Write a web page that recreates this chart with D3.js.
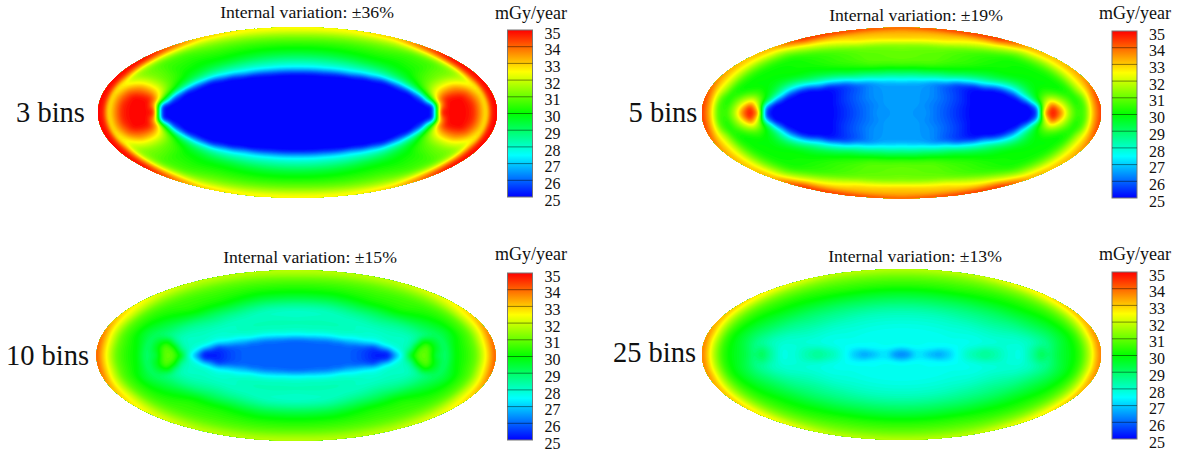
<!DOCTYPE html>
<html><head><meta charset="utf-8">
<script src="https://cdn.jsdelivr.net/npm/d3@7"></script>
<style>html,body{margin:0;background:#fff}svg{display:block}text{font-family:"Liberation Serif",serif;fill:#111}</style>
</head><body><svg id="c" width="1178" height="452"></svg>
<script>
// Dose, in mGy/year. Each table is one quadrant of the map:
// rows are angles (deg, 0 = long axis), columns are fractions of the way to the rim.
const colorDomain=[25,27.5,30,32.5,35];
const colorRange=["#0000ff","#00ffff","#00ff00","#ffff00","#ff0000"];
const barTicks=[35,34,33,32,31,30,29,28,27,26,25];

const rim3=[0,.25,.4,.44,.48,.52,.56,.6,.64,.68,.72,.76,.8,.84,.88,.92,.95,.97,.985,1];
const ang3=[0,4,8,12,16,20,25,30,40,50,60,75,90];
const dose3=[
[25,25,25,25,25,25,25,25,25,25.5,35,35,35,35,34.7,33.5,32.5,34.7,35,35],
[25,25,25,25,25,25,25,25,25,25,34,35,35,35,34.7,33.5,32.5,34.7,35,35],
[25,25,25,25,25,25,25,25,25,26,33,35,35,35,34.6,33.5,32.5,34.7,35,35],
[25,25,25,25,25,25,25,25,25.5,29,33.5,34.8,35,35,34.3,33.4,32.5,34.7,35,35],
[25,25,25,25,25,25,25,25,26,30,32.6,33.9,34.3,34.3,34,33,32.5,34.7,35,35],
[25,25,25,25,25,25,25,25,27,30.3,32,32.9,33.4,33.6,33.2,32.6,32.6,34.7,35,35],
[25,25,25,25,25,25,25,25.4,28,30.3,31.2,31.8,32.1,32.3,32.2,31.9,33.2,34.7,35,35],
[25,25,25,25,25,25,25,26.2,28.6,29.9,30.7,31,31.2,31.3,31.3,31.5,33.2,34.6,35,35],
[25,25,25,25,25,25,25.3,27.5,28.8,29.6,30,30.3,30.4,30.6,30.7,31.4,33,34.3,34.9,35],
[25,25,25,25,25,25.2,27,28,28.8,29.4,29.9,30.1,30.3,30.5,30.7,31.4,32.6,33.4,34,34.3],
[25,25,25,25,25,26.6,27.6,28.3,28.9,29.5,29.9,30.2,30.4,30.7,31,31.5,32,32.5,33,33.3],
[25,25,25,25,25.8,27.1,27.9,28.4,28.9,29.4,29.8,30.1,30.4,30.7,31.1,31.6,32.1,32.4,32.6,32.7],
[25,25,25,25,26,27.3,27.9,28.4,28.9,29.4,29.8,30.1,30.4,30.8,31.2,31.7,32.2,32.5,32.6,32.6]];

const rim5=[0,.12,.25,.33,.37,.4,.44,.48,.52,.56,.6,.64,.68,.72,.76,.8,.84,.88,.92,.95,.97,.985,1];
const ang5=[0,4,8,12,16,20,25,30,40,50,60,75,90];
const dose5=[
[26.6,26.5,25.7,25.2,25,25,25,25,25,25,25,25,25.5,34,35,33.8,31.6,30.5,30.8,32.7,33.6,34,34.6],
[26.6,26.5,25.7,25.2,25,25,25,25,25,25,25,25,25.8,32.5,35,33.2,31.5,30.4,30.7,32.7,33.6,34,34.6],
[26.6,26.5,25.7,25.2,25,25,25,25,25,25,25,25,27,31.6,33.6,32.4,31.2,30.2,30.8,32.6,33.5,34,34.5],
[26.6,26.5,25.75,25.25,25.05,25,25,25,25,25,25,26,28.8,31,32.2,31.6,30.8,30.2,31,32.5,33.4,33.9,34.4],
[26.6,26.5,25.8,25.3,25.1,25,25,25,25,25,25.2,27,29.2,30.5,31,30.8,30.3,30.3,31.6,32.5,33.2,33.7,34.2],
[26.6,26.5,25.85,25.4,25.1,25,25,25,25,25,25.6,27.8,29.3,30,30.4,30.2,30,30.4,31.7,32.6,33.1,33.4,34],
[26.6,26.5,25.9,25.5,25.2,25.05,25,25,25,25.1,26.4,28,29.2,29.9,30,30,30.1,30.5,31.7,32.6,33,33.2,33.7],
[26.6,26.5,26,25.6,25.3,25.1,25,25,25,25.8,27.2,28.4,29.3,29.8,30,30.1,30.1,30.6,31.6,32.5,32.9,33.1,33.5],
[26.6,26.5,26.2,25.8,25.6,25.4,25.2,25.4,27,28,28.9,29.5,29.9,30.1,30.1,30.1,30.2,30.7,31.5,32.4,32.8,33,33.2],
[26.6,26.6,26.4,26,25.8,25.7,25.8,27.2,28.2,29,29.6,29.9,30.1,30.2,30.2,30.2,30.3,30.8,31.6,32.4,32.9,33.2,33.4],
[26.6,26.6,26.5,26.4,26.1,26.4,27.6,28.4,29.2,29.8,30.1,30.4,30.5,30.5,30.5,30.6,31,31.8,32.6,33.4,34,34.4,34.7],
[26.6,26.6,26.6,26.6,26.8,27.6,28.3,29.1,29.8,30.4,30.8,30.9,30.9,30.9,31,31.3,32.2,32.9,33.1,33.4,33.8,34.2,34.6],
[26.6,26.6,26.6,26.6,27.2,27.8,28.5,29.3,30,30.6,30.9,31,31,31,31.2,31.4,32.5,33.1,33.2,33.3,33.6,34,34.2]];

const rim10=[0,.12,.18,.22,.26,.32,.4,.46,.5,.54,.58,.62,.66,.7,.75,.8,.85,.9,.94,.97,1];
const ang10=[0,5,10,15,20,30,45,60,75,90];
const dose10=[
[26,26,26,26,26,25.8,25.3,25.2,26.5,28,30.2,31,31,29.4,29,30,30.4,31,32.2,33.2,34.2],
[26,26,26,26,26,25.8,25.3,25.4,27.2,28.2,29.2,30.9,31,29.8,29,30,30.4,31,32.2,33.2,34.2],
[26,26,26,26,26,25.8,25.5,26.6,27.8,28.1,28.4,30,30.9,29.9,29,29.9,30.4,31,32.2,33.1,34.1],
[26,26,26,26,26,25.9,25.7,27.6,28,28.1,28.2,28.6,29.8,29.6,29.1,29.7,30.3,30.9,32,32.9,33.9],
[26,26,26,26,26,26,27,27.9,28.1,28.1,28.1,28.3,28.6,28.9,29.2,29.6,30.3,30.9,31.9,32.7,33.6],
[26,26,26,26,26,26.9,27.9,28,28.1,28.2,28.3,28.5,28.8,29.2,29.6,30,30.4,30.9,31.9,32.5,33],
[26,26,26,26,26.7,27.9,28.2,28.1,28.2,28.4,28.7,29,29.4,29.9,30.3,30.5,30.6,31,31.5,32,32.4],
[26,26,26,26.5,27.4,28.1,28.3,28.2,28.2,28.4,28.7,29.1,29.5,30,30.3,30.5,30.7,31,31.4,31.7,32],
[26,26,26,27,27.8,28.2,28.3,28.2,28.1,28.2,28.5,28.9,29.3,29.7,30.1,30.4,30.7,31,31.4,31.7,31.9],
[26,26,26,27.1,27.8,28.2,28.3,28.1,28,28.2,28.5,28.9,29.3,29.7,30.1,30.4,30.7,31.1,31.5,31.8,31.9]];

const rim25=[0,.04,.07,.1,.14,.19,.24,.28,.34,.42,.48,.54,.6,.66,.7,.74,.78,.82,.86,.9,.94,.97,1];
const ang25=[0,5,10,15,20,28,40,55,70,90];
const dose25=[
[26.3,26.5,27.5,27.4,26.9,26.6,27.1,27.6,28.2,28.6,28.3,27.9,27.8,28.6,29.3,28.9,29.4,29.7,30,30.6,31.8,33,33.9],
[26.3,26.5,27.4,27.3,26.9,26.7,27.1,27.6,28.2,28.6,28.3,27.9,27.8,28.5,29,28.8,29.3,29.7,30,30.6,31.8,33,33.9],
[26.3,26.6,27.3,27.2,27,26.8,27.2,27.6,28,28.2,28.1,27.9,27.9,28.2,28.5,28.7,29.2,29.6,30,30.6,31.8,32.9,33.8],
[26.3,26.6,27.2,27.3,27.1,27,27.3,27.6,27.8,27.9,27.9,28,28,28.2,28.5,28.8,29.2,29.6,30,30.6,31.8,32.9,33.7],
[26.3,26.6,27.1,27.3,27.3,27.3,27.5,27.6,27.7,27.8,27.9,28,28.1,28.4,28.7,29,29.3,29.7,30.1,30.7,31.7,32.7,33.5],
[26.3,26.6,27.1,27.4,27.5,27.6,27.6,27.7,27.7,27.8,28,28.2,28.4,28.7,29,29.3,29.6,29.9,30.3,30.8,31.6,32.5,33.3],
[26.3,26.6,27.2,27.5,27.6,27.6,27.7,27.7,27.8,27.9,28.1,28.4,28.7,29,29.3,29.6,29.9,30.2,30.5,30.9,31.6,32.3,33],
[26.3,26.6,27.3,27.6,27.7,27.7,27.7,27.7,27.8,28,28.2,28.5,28.8,29.2,29.5,29.8,30.1,30.3,30.6,31,31.4,32,32.5],
[26.3,26.6,27.2,27.6,27.7,27.7,27.7,27.7,27.8,28,28.2,28.5,28.9,29.3,29.6,29.9,30.2,30.5,30.7,31,31.3,31.6,32],
[26.3,26.6,27.2,27.6,27.7,27.7,27.7,27.7,27.8,28,28.2,28.5,28.9,29.3,29.6,29.9,30.2,30.5,30.7,31,31.3,31.6,31.9]];

const panels=[
 {id:"p3",name:"3 bins",title:"Internal variation: ±36%",rim:rim3,ang:ang3,dose:dose3,cx:297.5,cy:112.5,nameX:50.5,nameY:112,titleX:307,titleY:12,barX:507.5,barTop:30,unitX:531,unitY:13},
 {id:"p5",name:"5 bins",title:"Internal variation: ±19%",rim:rim5,ang:ang5,dose:dose5,cx:901.5,cy:113,nameX:663,nameY:112,titleX:916,titleY:15,barX:1112,barTop:31,unitX:1135,unitY:13},
 {id:"p10",name:"10 bins",title:"Internal variation: ±15%",rim:rim10,ang:ang10,dose:dose10,cx:296,cy:355.5,nameX:47.5,nameY:355,titleX:310,titleY:257,barX:507.5,barTop:273,unitX:531,unitY:254},
 {id:"p25",name:"25 bins",title:"Internal variation: ±13%",rim:rim25,ang:ang25,dose:dose25,cx:901.5,cy:354.5,nameX:654.5,nameY:352,titleX:915,titleY:256,barX:1112,barTop:272,unitX:1135,unitY:254}
];
const rx=199.5, ry=85.5, barW=25, barH=167;
const color=d3.scaleLinear().domain(colorDomain).range(colorRange).clamp(true);
const levels=d3.range(25.05,35,0.1);
const svg=d3.select("#c");
const defs=svg.append("defs");
defs.append("linearGradient").attr("id","barGrad").attr("x1",0).attr("x2",0).attr("y1",1).attr("y2",0)
 .selectAll("stop").data(colorDomain).join("stop")
 .attr("offset",d=>(d-25)/10).attr("stop-color",d=>color(d));

function sampler(p){
 const rs=d3.scaleLinear().domain(p.rim).range(p.rim.map((_,i)=>i)).clamp(true);
 const as=d3.scaleLinear().domain(p.ang).range(p.ang.map((_,i)=>i)).clamp(true);
 return (u,v)=>{
  const r=Math.min(1,Math.hypot(u,v));
  const a=Math.atan2(Math.abs(v),Math.abs(u))*180/Math.PI;
  const ri=rs(r),ai=as(a);
  const r0=Math.min(Math.floor(ri),p.rim.length-2),a0=Math.min(Math.floor(ai),p.ang.length-2);
  const fr=ri-r0,fa=ai-a0;
  const d=p.dose;
  return (d[a0][r0]*(1-fr)+d[a0][r0+1]*fr)*(1-fa)+(d[a0+1][r0]*(1-fr)+d[a0+1][r0+1]*fr)*fa;
 };
}

panels.forEach(p=>{
 const g=svg.append("g").attr("class","panel "+p.id);
 defs.append("clipPath").attr("id","clip-"+p.id).append("ellipse")
  .attr("cx",p.cx).attr("cy",p.cy).attr("rx",rx).attr("ry",ry);
 const pad=6, x0=Math.floor(p.cx-rx)-pad, y0=Math.floor(p.cy-ry)-pad;
 const w=Math.ceil(2*rx)+2*pad+2, h=Math.ceil(2*ry)+2*pad+2;
 const f=sampler(p), vals=new Float64Array(w*h);
 for(let j=0;j<h;j++)for(let i=0;i<w;i++)
  vals[j*w+i]=f((x0+i+.5-p.cx)/rx,(y0+j+.5-p.cy)/ry);
 if(d3.blur2) d3.blur2({data:vals,width:w,height:h},1.5);
 const contours=d3.contours().size([w,h]).smooth(true).thresholds(levels.map((t,i)=>i?t:24))(vals);
 g.append("g").attr("clip-path","url(#clip-"+p.id+")")
  .append("g").attr("transform",`translate(${x0},${y0})`)
  .selectAll("path").data(contours).join("path")
  .attr("d",d3.geoPath()).attr("fill",(d,i)=>color(levels[i]));

 const y=d3.scaleLinear().domain([25,35]).range([p.barTop+barH,p.barTop]);
 g.append("rect").attr("x",p.barX).attr("y",p.barTop).attr("width",barW).attr("height",barH)
  .attr("fill","url(#barGrad)").attr("stroke","#777").attr("stroke-width",1);
 g.append("g").selectAll("line").data(barTicks.filter(t=>t>25&&t<35)).join("line")
  .attr("x1",p.barX).attr("x2",p.barX+barW).attr("y1",d=>y(d)).attr("y2",d=>y(d))
  .attr("stroke","#000").attr("stroke-opacity",.45);
 const ax=g.append("g").attr("transform",`translate(${p.barX+37},3)`)
  .call(d3.axisRight(y).tickValues(barTicks).tickSize(0).tickPadding(0));
 ax.select(".domain").remove();
 ax.selectAll("text").attr("font-size",16).attr("font-family",'"Liberation Serif",serif').attr("fill","#111");
 g.append("text").attr("x",p.unitX).attr("y",p.unitY).attr("dy",".35em").attr("text-anchor","middle").attr("font-size",18).text("mGy/year");
 g.append("text").attr("x",p.titleX).attr("y",p.titleY).attr("dy",".35em").attr("text-anchor","middle").attr("font-size",17.7).text(p.title);
 g.append("text").attr("x",p.nameX).attr("y",p.nameY).attr("dy",".35em").attr("text-anchor","middle").attr("font-size",28.5).text(p.name);
});
</script></body></html>
